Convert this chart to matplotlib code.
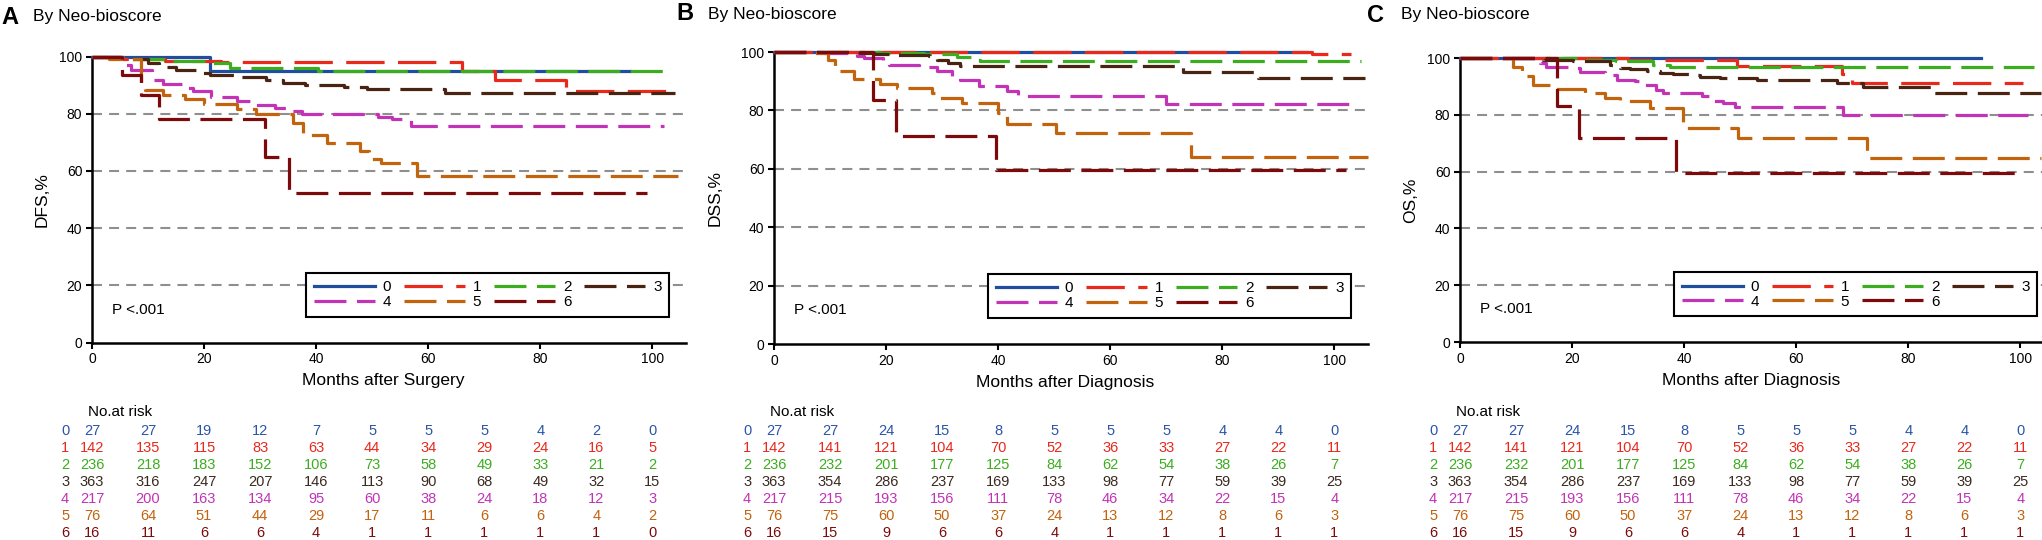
import matplotlib
matplotlib.use('Agg')
import matplotlib.pyplot as plt
import matplotlib.transforms as mtransforms

plt.rcParams['font.family'] = ['Liberation Sans', 'DejaVu Sans']

groups = ['0', '1', '2', '3', '4', '5', '6']
risk_months = [0, 10, 20, 30, 40, 50, 60, 70, 80, 90, 100]

# ---- Panel A: DFS (months after surgery) ----
dfs_t0 = [0, 21, 96]
dfs_s0 = [100, 95, 95]
dfs_t1 = [0, 5.5, 13, 23, 66, 72, 84.5, 104]
dfs_s1 = [100, 99.2, 98.6, 98, 95, 91.8, 87.8, 87.8]
dfs_t2 = [0, 6.4, 13.3, 20.3, 24.6, 40.4, 103]
dfs_s2 = [100, 99, 98.5, 97.7, 96, 95, 95]
dfs_t3 = [0, 5, 6.4, 10, 12, 15, 18.6, 21, 26.5, 31, 34, 38, 45, 49, 63, 104]
dfs_s3 = [100, 99.5, 99, 97.7, 96.5, 95.3, 94.2, 93.6, 93, 91.8, 90.9, 90, 89.3, 88.6, 87.4, 87.4]
dfs_t4 = [0, 5.4, 7, 10.7, 12.7, 16, 18, 21.3, 25.9, 29, 32.7, 35, 37.5, 51, 53.5, 57, 102]
dfs_s4 = [100, 97, 95.3, 91.8, 90.5, 89, 88.1, 86, 84.3, 83, 82, 81, 80, 79, 78, 75.8, 75.8]
dfs_t5 = [0, 3, 8.7, 9.4, 12.7, 16.6, 20, 25.9, 29.2, 35.9, 37.6, 42, 47.8, 49.5, 51.5, 58, 104.5]
dfs_s5 = [100, 99.2, 90.7, 88.3, 86.6, 85, 83.3, 81.6, 79.8, 76.8, 72.5, 69.9, 67, 64, 62.8, 58.3, 58.3]
dfs_t6 = [0, 5.4, 8.7, 12, 30.9, 35.1, 99]
dfs_s6 = [100, 93.6, 86.6, 78, 65, 52.1, 52.1]

dfs_risk0 = [27, 27, 19, 12, 7, 5, 5, 5, 4, 2, 0]
dfs_risk1 = [142, 135, 115, 83, 63, 44, 34, 29, 24, 16, 5]
dfs_risk2 = [236, 218, 183, 152, 106, 73, 58, 49, 33, 21, 2]
dfs_risk3 = [363, 316, 247, 207, 146, 113, 90, 68, 49, 32, 15]
dfs_risk4 = [217, 200, 163, 134, 95, 60, 38, 24, 18, 12, 3]
dfs_risk5 = [76, 64, 51, 44, 29, 17, 11, 6, 6, 4, 2]
dfs_risk6 = [16, 11, 6, 6, 4, 1, 1, 1, 1, 1, 0]

# ---- Panel B: DSS (months after diagnosis) ----
dss_t0 = [0, 95]
dss_s0 = [100, 100]
dss_t1 = [0, 96, 103]
dss_s1 = [100, 99.4, 99.4]
dss_t2 = [0, 18.9, 26.7, 32.6, 35.6, 36.8, 104.8]
dss_s2 = [100, 99.7, 99.3, 98.2, 97.4, 96.8, 96.8]
dss_t3 = [0, 14.8, 17.8, 20.7, 27.6, 29, 31.1, 33.2, 73, 86.3, 105.5]
dss_s3 = [100, 99.7, 99.4, 99.1, 98.5, 97.4, 96.2, 95.2, 93, 91, 91]
dss_t4 = [0, 9, 14.8, 16, 19.5, 20.5, 25.8, 29, 31.7, 33.2, 36.5, 41.5, 43.5, 70, 104]
dss_s4 = [100, 99.6, 98.5, 97.9, 97, 95.6, 94.7, 93.4, 91, 90.5, 88.4, 86.8, 85, 82.2, 82.2]
dss_t5 = [0, 6, 9.7, 10.9, 14.2, 19, 21.9, 28.2, 29.6, 33.5, 40, 41.5, 50.3, 74.5, 106]
dss_s5 = [100, 99.6, 97.3, 93.6, 90.8, 89.2, 87.8, 86, 84.3, 82.5, 79, 75.4, 72.2, 64.2, 64.2]
dss_t6 = [0, 17.7, 21.8, 39.6, 102]
dss_s6 = [100, 83.7, 71.4, 59.6, 59.6]

dss_risk0 = [27, 27, 24, 15, 8, 5, 5, 5, 4, 4, 0]
dss_risk1 = [142, 141, 121, 104, 70, 52, 36, 33, 27, 22, 11]
dss_risk2 = [236, 232, 201, 177, 125, 84, 62, 54, 38, 26, 7]
dss_risk3 = [363, 354, 286, 237, 169, 133, 98, 77, 59, 39, 25]
dss_risk4 = [217, 215, 193, 156, 111, 78, 46, 34, 22, 15, 4]
dss_risk5 = [76, 75, 60, 50, 37, 24, 13, 12, 8, 6, 3]
dss_risk6 = [16, 15, 9, 6, 6, 4, 1, 1, 1, 1, 1]

# ---- Panel C: OS (months after diagnosis) ----
os_t0 = [0, 93]
os_s0 = [100, 100]
os_t1 = [0, 30, 49.4, 68.2, 70, 100.4]
os_s1 = [100, 99.3, 97.3, 94.5, 91.3, 91.3]
os_t2 = [0, 21.4, 27.9, 34.5, 37.5, 102.4]
os_s2 = [100, 99.4, 98.8, 97.5, 96.7, 96.7]
os_t3 = [0, 14.8, 20.2, 26.7, 28.5, 30.3, 33.3, 35.7, 38, 41, 42.8, 46.4, 53, 67.2, 72, 84.1, 103.6]
os_s3 = [100, 99.2, 98.8, 97.5, 96.5, 96, 95.5, 94.7, 94.4, 94, 93.3, 93, 92.3, 91.1, 89.7, 87.8, 87.8]
os_t4 = [0, 14.2, 15.4, 19.6, 21.5, 25.8, 28, 31.2, 33, 35, 36.3, 43.1, 44.5, 47, 49, 68.4, 101.4]
os_s4 = [100, 98.2, 97, 96.5, 94.9, 94.1, 92.4, 91.8, 90.4, 88.9, 87.7, 86.5, 84.8, 84.2, 82.9, 80, 80]
os_t5 = [0, 9.5, 11, 13, 17, 22.3, 25.8, 28.5, 33.9, 39.8, 49.6, 72.7, 103.6]
os_s5 = [100, 97, 93.6, 90.6, 89, 87.7, 86, 84.8, 82.5, 75.5, 72, 64.8, 64.8]
os_t6 = [0, 17.3, 21.3, 38.6, 99.7]
os_s6 = [100, 83, 71.9, 59.6, 59.6]

os_risk0 = [27, 27, 24, 15, 8, 5, 5, 5, 4, 4, 0]
os_risk1 = [142, 141, 121, 104, 70, 52, 36, 33, 27, 22, 11]
os_risk2 = [236, 232, 201, 177, 125, 84, 62, 54, 38, 26, 7]
os_risk3 = [363, 354, 286, 237, 169, 133, 98, 77, 59, 39, 25]
os_risk4 = [217, 215, 193, 156, 111, 78, 46, 34, 22, 15, 4]
os_risk5 = [76, 75, 60, 50, 37, 24, 13, 12, 8, 6, 3]
os_risk6 = [16, 15, 9, 6, 6, 4, 1, 1, 1, 1, 1]

colors = ['#1f4e9e', '#e8291c', '#3cad1f', '#4a2412', '#c233b5', '#c2630e', '#7d0a0a']
table_colors = ['#2a55a8', '#e8291c', '#3cad1f', '#3b2a20', '#c233b5', '#c2630e', '#7d0a0a']

W, H = 2042, 540
fig = plt.figure(figsize=(W / 100, H / 100), dpi=100)


def draw_panel(letter, letter_x, title_x, title_y, left, top, bottom, ylab, xlab, ylab_dx,
               times, survs, risks):
    width = 594
    ax = fig.add_axes([left / W, 1 - bottom / H, width / W, (bottom - top) / H])
    ax.set_xlim(0, 106)
    ax.set_ylim(0, 100)

    for g in [20, 40, 60, 80]:
        ax.axhline(g, color='#8f8f8f', lw=1.5, dashes=(4.8, 3.4), zorder=0)

    lines = []
    for i in range(7):
        if i == 0:
            ln, = ax.step(times[i], survs[i], where='post', color=colors[i], lw=2.3,
                          clip_on=False, zorder=3)
        else:
            dash = (12, 4.2) if i == 1 else (10, 3.3)
            ln, = ax.step(times[i], survs[i], where='post', color=colors[i], lw=2.3,
                          dashes=dash, clip_on=False, zorder=3 + i * 0.1)
        lines.append(ln)

    for side in ['top', 'right']:
        ax.spines[side].set_visible(False)
    for side in ['left', 'bottom']:
        ax.spines[side].set_linewidth(1.8)
    ax.set_xticks(range(0, 101, 20))
    ax.set_yticks(range(0, 101, 20))
    ax.tick_params(direction='out', length=4, width=1.5, labelsize=10, pad=3)

    ax.set_xlabel(xlab, fontsize=12.5)
    ax.xaxis.set_label_coords(0.49, -31 / (bottom - top))
    ax.set_ylabel(ylab, fontsize=12.5)
    ax.yaxis.set_label_coords(-ylab_dx / width, 0.5)

    ax.text(3.5, 11.5, 'P <.001', fontsize=11, va='center')

    order = [0, 4, 1, 5, 2, 6, 3]
    leg = ax.legend([lines[i] for i in order], [groups[i] for i in order], ncol=4,
                    loc='lower left', bbox_to_anchor=(214 / width, 0.09), borderaxespad=0,
                    fontsize=11, handlelength=4.0, handletextpad=0.5, columnspacing=0.85,
                    labelspacing=0.05, borderpad=0.5, frameon=True, fancybox=False,
                    edgecolor='black', framealpha=1)
    leg.get_frame().set_linewidth(1.5)
    leg.set_zorder(5)

    fig.text(letter_x / W, 1 - title_y / H, letter, fontsize=17, fontweight='bold', va='center')
    fig.text(title_x / W, 1 - title_y / H, 'By Neo-bioscore', fontsize=12.5, va='center')

    # number at risk table
    trans = mtransforms.blended_transform_factory(ax.transData, fig.transFigure)
    ax.text(5, 1 - 412 / H, 'No.at risk', fontsize=11, ha='center', va='center',
            transform=trans, clip_on=False)
    for i in range(7):
        y = 1 - (431 + 17 * i) / H
        ax.text(-4.8, y, groups[i], color=table_colors[i], fontsize=10.5, ha='center',
                va='center', transform=trans, clip_on=False)
        for m, n in zip(risk_months, risks[i]):
            ax.text(m, y, str(n), color=table_colors[i], fontsize=10.5, ha='center',
                    va='center', transform=trans, clip_on=False)
    return ax


draw_panel('A', 1, 33, 17, 92, 56.5, 342.5, 'DFS,%', 'Months after Surgery', 42,
           [dfs_t0, dfs_t1, dfs_t2, dfs_t3, dfs_t4, dfs_t5, dfs_t6],
           [dfs_s0, dfs_s1, dfs_s2, dfs_s3, dfs_s4, dfs_s5, dfs_s6],
           [dfs_risk0, dfs_risk1, dfs_risk2, dfs_risk3, dfs_risk4, dfs_risk5, dfs_risk6])

draw_panel('B', 676, 708, 14, 774, 52, 344, 'DSS,%', 'Months after Diagnosis', 51,
           [dss_t0, dss_t1, dss_t2, dss_t3, dss_t4, dss_t5, dss_t6],
           [dss_s0, dss_s1, dss_s2, dss_s3, dss_s4, dss_s5, dss_s6],
           [dss_risk0, dss_risk1, dss_risk2, dss_risk3, dss_risk4, dss_risk5, dss_risk6])

draw_panel('C', 1367, 1401, 15, 1460, 58, 342, 'OS,%', 'Months after Diagnosis', 42,
           [os_t0, os_t1, os_t2, os_t3, os_t4, os_t5, os_t6],
           [os_s0, os_s1, os_s2, os_s3, os_s4, os_s5, os_s6],
           [os_risk0, os_risk1, os_risk2, os_risk3, os_risk4, os_risk5, os_risk6])

fig.savefig('out.png', dpi=100, facecolor='white')
